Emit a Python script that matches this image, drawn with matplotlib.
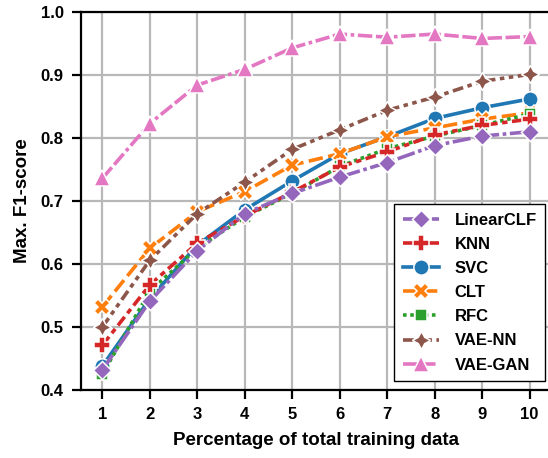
import matplotlib
matplotlib.use("Agg")
import matplotlib.pyplot as plt

plt.rcParams['font.family'] = ['Liberation Sans', 'DejaVu Sans']
plt.rcParams['font.weight'] = 'bold'

pct = [1, 2, 3, 4, 5, 6, 7, 8, 9, 10]

linear_clf = [0.432, 0.541, 0.621, 0.680, 0.712, 0.738, 0.761, 0.788, 0.803, 0.810]
knn        = [0.471, 0.567, 0.633, 0.676, 0.714, 0.754, 0.778, 0.805, 0.820, 0.830]
svc        = [0.438, 0.545, 0.630, 0.686, 0.732, 0.775, 0.802, 0.831, 0.848, 0.862]
clt        = [0.532, 0.625, 0.683, 0.715, 0.757, 0.775, 0.802, 0.816, 0.830, 0.840]
rfc        = [0.425, 0.557, 0.625, 0.675, 0.712, 0.755, 0.783, 0.803, 0.820, 0.838]
vae_nn     = [0.500, 0.606, 0.680, 0.730, 0.782, 0.813, 0.844, 0.865, 0.890, 0.901]
vae_gan    = [0.736, 0.823, 0.884, 0.909, 0.943, 0.965, 0.960, 0.965, 0.958, 0.961]

# drawing order (colour / marker / dash cycle order)
series = [
    ("SVC", svc, "tab:blue", "o", ()),
    ("CLT", clt, "tab:orange", "X", (4, 1.5)),
    ("RFC", rfc, "tab:green", (4, 0, 45), (1, 1)),
    ("KNN", knn, "tab:red", "P", (3, 1.25, 1.5, 1.25)),
    ("LinearCLF", linear_clf, "tab:purple", (4, 0, 0), (5, 1, 1, 1)),
    ("VAE-NN", vae_nn, "tab:brown", (4, 1, 0), (3, 1.25, 1.25, 1.25, 1.25, 1.25)),
    ("VAE-GAN", vae_gan, "tab:pink", "^", (4, 1, 4, 1, 1, 1)),
]
legend_order = ["LinearCLF", "KNN", "SVC", "CLT", "RFC", "VAE-NN", "VAE-GAN"]

fig = plt.figure(figsize=(5.48, 4.58), dpi=100)
ax = fig.add_axes([81 / 548, 1 - 390 / 458, 470 / 548, 378 / 458])
handles = {}
for name, vals, col, mk, dash in series:
    ms = 11 if mk in ("o", "X", "P", "^") else 13
    line, = ax.plot(pct, vals, color=col, marker=mk, markersize=ms,
                    markeredgecolor='white', markeredgewidth=1.1, lw=2.6,
                    label=name)
    if dash:
        line.set_dashes(dash)
    handles[name] = line

ax.set_xlim(0.55, 10.45)
ax.set_ylim(0.4, 1.0)
ax.set_xticks(pct)
ax.set_yticks([0.4, 0.5, 0.6, 0.7, 0.8, 0.9, 1.0])
ax.grid(True, color='#b8b8b8', lw=1.6)
ax.set_axisbelow(True)
ax.tick_params(labelsize=12, width=1.6, length=6.5, pad=6)
for s in ax.spines.values():
    s.set_linewidth(1.6)
ax.set_xlabel("Percentage of total training data", fontsize=13.5,
              fontweight='bold', labelpad=7)
ax.set_ylabel("Max. F1-score", fontsize=13.5, fontweight='bold', labelpad=7)

leg = ax.legend([handles[n] for n in legend_order], legend_order,
                loc='lower right', bbox_to_anchor=(0.987, 0.024),
                borderaxespad=0, fontsize=12, handlelength=2.2,
                handletextpad=0.9, fancybox=False, edgecolor='black',
                framealpha=1, borderpad=0.5, labelspacing=0.55)
leg.get_frame().set_linewidth(1.0)

fig.savefig("out.png", dpi=100)
